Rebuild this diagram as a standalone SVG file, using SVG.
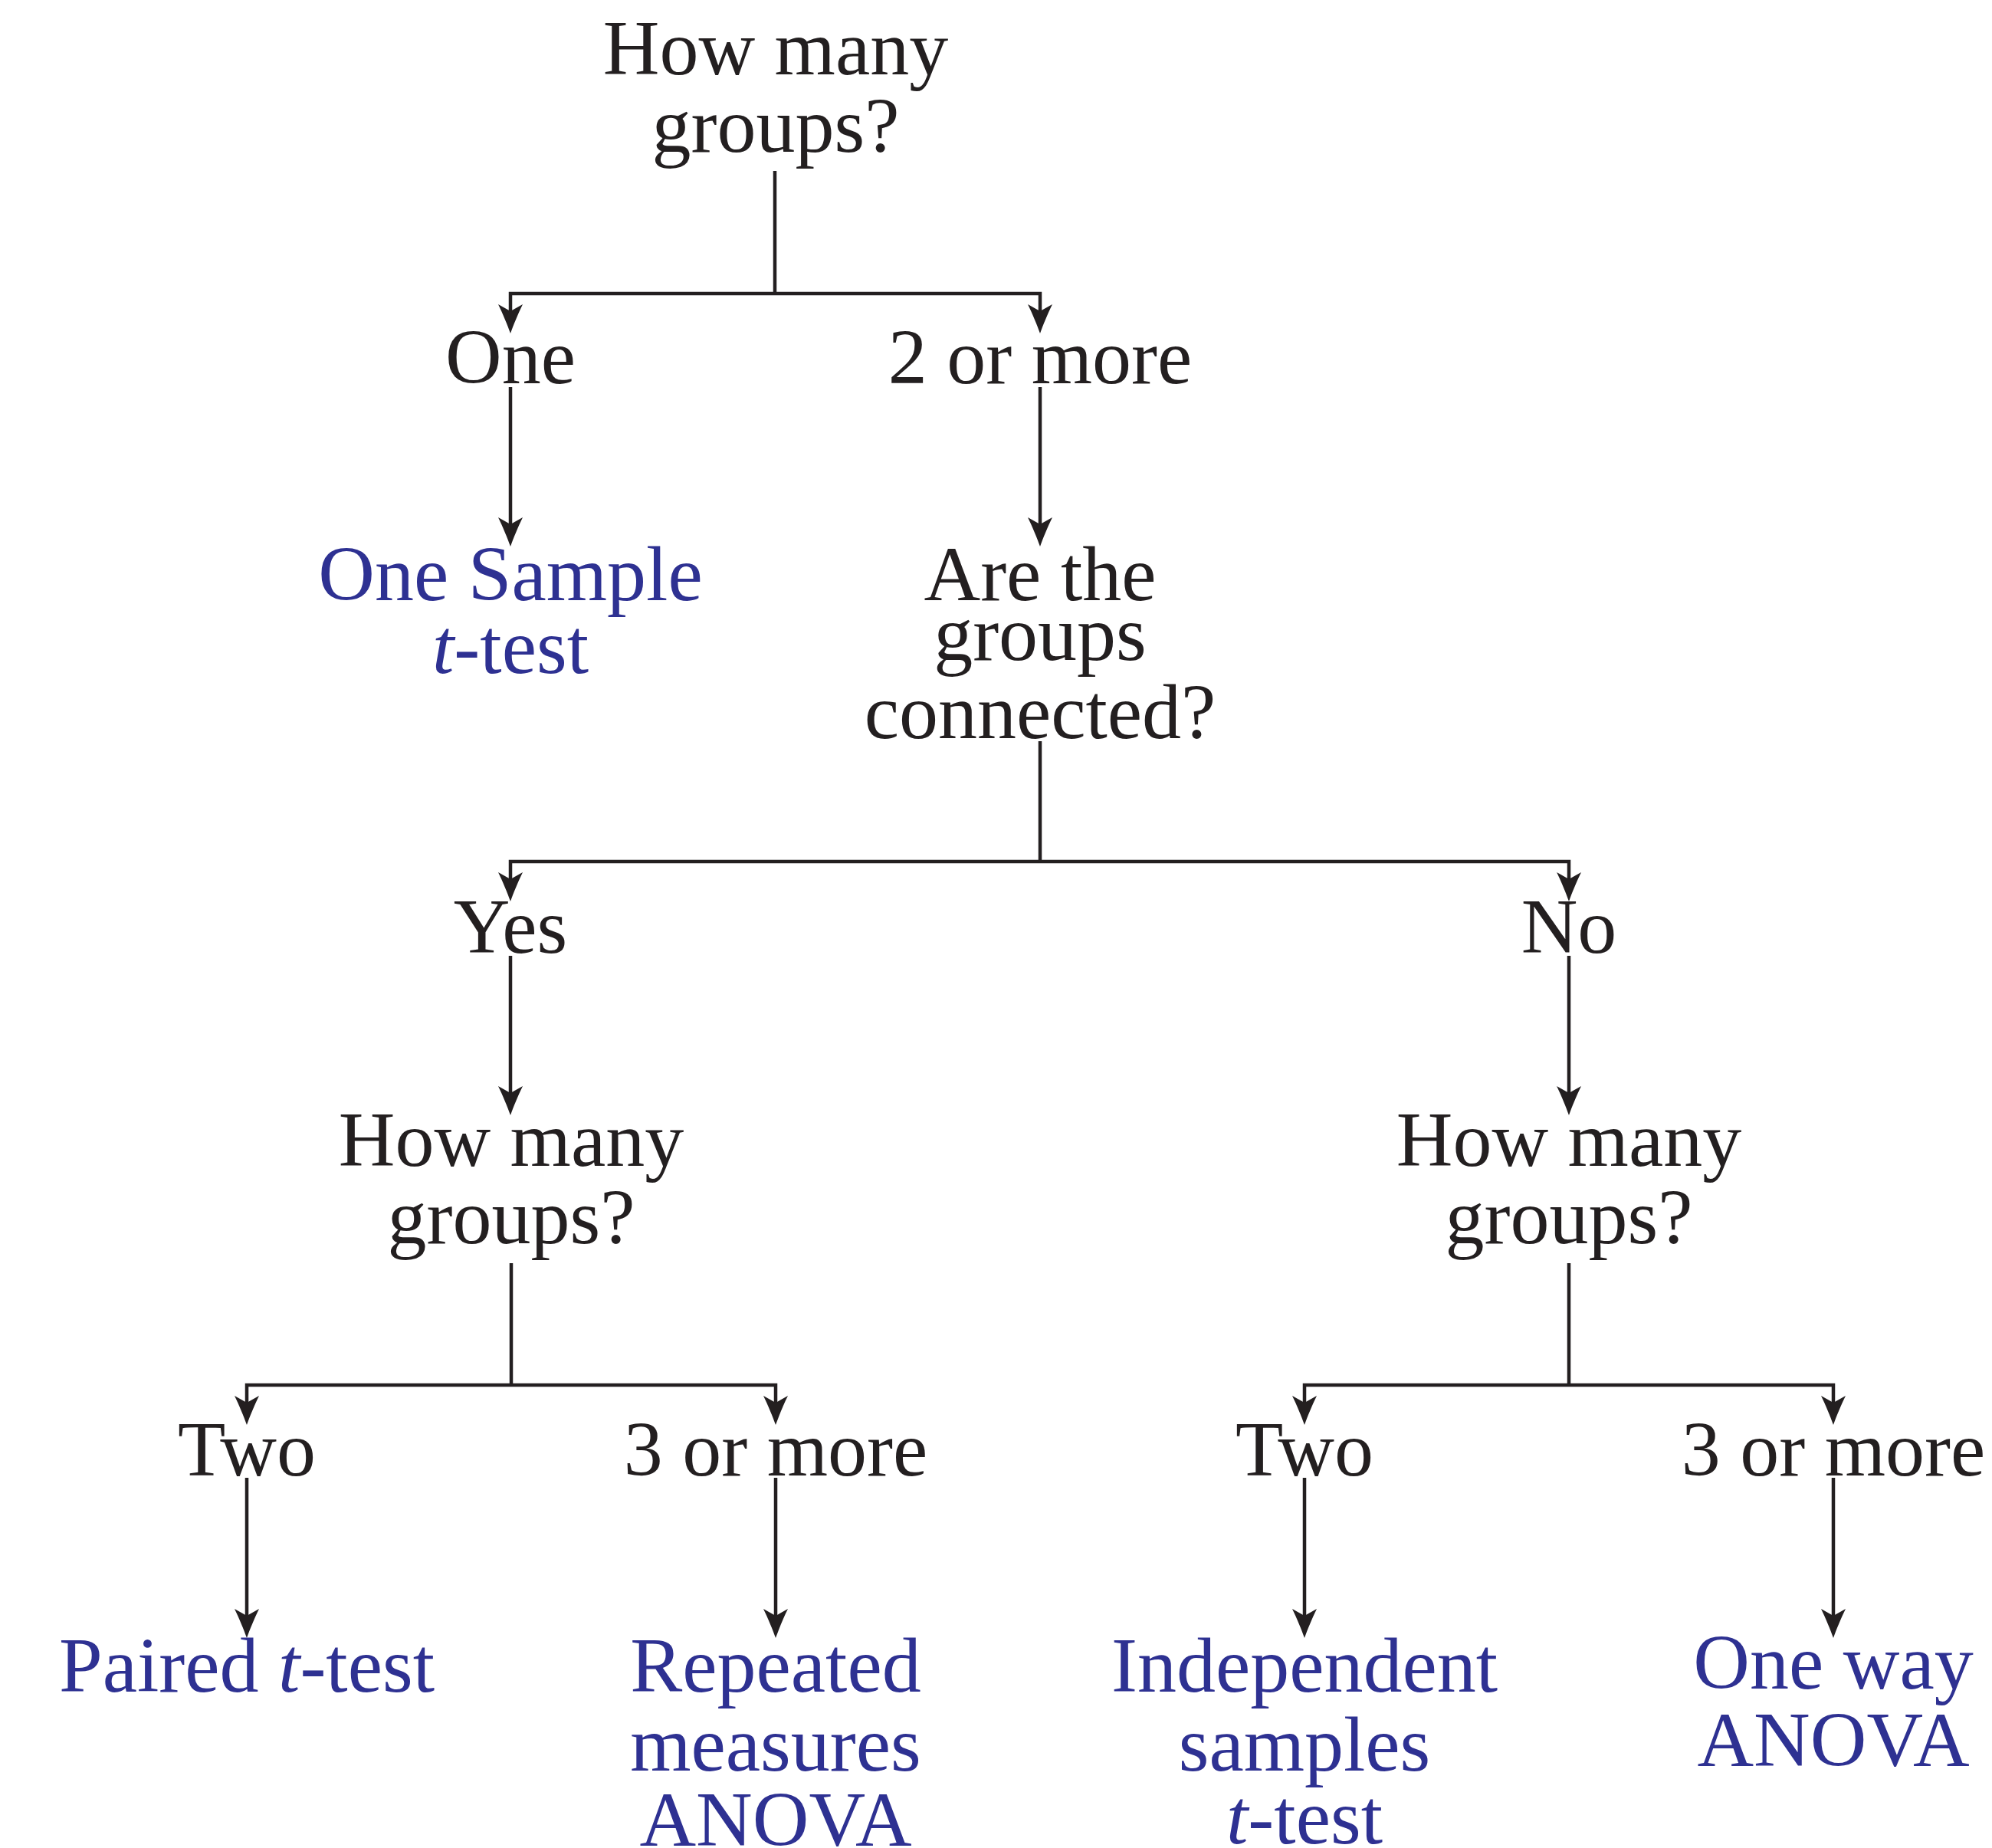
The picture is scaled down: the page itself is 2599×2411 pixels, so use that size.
<svg xmlns="http://www.w3.org/2000/svg" width="2599" height="2411" viewBox="0 0 2599 2411">
<style>
text{font-family:"Liberation Serif","Times New Roman",serif;font-size:102px;text-anchor:middle}
.q{fill:#231f20}
.r{fill:#2e3192}
.c{fill:none;stroke:#231f20;stroke-width:4.5}
</style>
<defs>
<marker id="ah" markerUnits="userSpaceOnUse" viewBox="-2 -18 42 36" markerWidth="42" markerHeight="36" refX="16" refY="0" orient="auto">
<path d="M38,0 C27,-4 12,-10 0,-16 L9,0 L0,16 C12,10 27,4 38,0 Z" fill="#231f20"/>
</marker>
</defs>
<rect width="2599" height="2411" fill="#ffffff"/>
<g id="connectors">
<path class="c" d="M1011,223 V383"/>
<path class="c" d="M1011,383 H666 V413" marker-end="url(#ah)"/>
<path class="c" d="M1011,383 H1357 V413" marker-end="url(#ah)"/>
<path class="c" d="M666,505 V691" marker-end="url(#ah)"/>
<path class="c" d="M1357,505 V691" marker-end="url(#ah)"/>
<path class="c" d="M1357,967 V1124"/>
<path class="c" d="M1357,1124 H666 V1154" marker-end="url(#ah)"/>
<path class="c" d="M1357,1124 H2047 V1154" marker-end="url(#ah)"/>
<path class="c" d="M666,1247 V1433" marker-end="url(#ah)"/>
<path class="c" d="M2047,1247 V1433" marker-end="url(#ah)"/>
<path class="c" d="M667,1648 V1807"/>
<path class="c" d="M667,1807 H322 V1837" marker-end="url(#ah)"/>
<path class="c" d="M667,1807 H1012 V1837" marker-end="url(#ah)"/>
<path class="c" d="M2047,1648 V1807"/>
<path class="c" d="M2047,1807 H1702 V1837" marker-end="url(#ah)"/>
<path class="c" d="M2047,1807 H2392 V1837" marker-end="url(#ah)"/>
<path class="c" d="M322,1928 V2115" marker-end="url(#ah)"/>
<path class="c" d="M1012,1928 V2115" marker-end="url(#ah)"/>
<path class="c" d="M1702,1928 V2115" marker-end="url(#ah)"/>
<path class="c" d="M2392,1928 V2115" marker-end="url(#ah)"/>
</g>
<g id="q-root"><text class="q" x="1012" y="97">How many</text><text class="q" x="1012" y="198">groups?</text></g>
<g id="a-one"><text class="q" x="666" y="500">One</text></g>
<g id="a-two-more"><text class="q" x="1357" y="500">2 or more</text></g>
<g id="r-one-sample"><text class="r" x="666" y="783">One Sample</text><text class="r" x="666" y="878"><tspan font-style="italic">t</tspan>-test</text></g>
<g id="q-connected"><text class="q" x="1357" y="783">Are the</text><text class="q" x="1357" y="861">groups</text><text class="q" x="1357" y="963">connected?</text></g>
<g id="a-yes"><text class="q" x="666" y="1243">Yes</text></g>
<g id="a-no"><text class="q" x="2047" y="1243">No</text></g>
<g id="q-left"><text class="q" x="667" y="1521">How many</text><text class="q" x="667" y="1622">groups?</text></g>
<g id="q-right"><text class="q" x="2047" y="1521">How many</text><text class="q" x="2047" y="1622">groups?</text></g>
<g id="a-left-two"><text class="q" x="322" y="1925">Two</text></g>
<g id="a-left-three"><text class="q" x="1012" y="1925">3 or more</text></g>
<g id="a-right-two"><text class="q" x="1702" y="1925">Two</text></g>
<g id="a-right-three"><text class="q" x="2392" y="1925">3 or more</text></g>
<g id="r-paired"><text class="r" x="322" y="2207">Paired <tspan font-style="italic">t</tspan>-test</text></g>
<g id="r-repeated"><text class="r" x="1012" y="2207">Repeated</text><text class="r" x="1012" y="2310">measures</text><text class="r" x="1012" y="2408">ANOVA</text></g>
<g id="r-independent"><text class="r" x="1702" y="2207">Independent</text><text class="r" x="1702" y="2310">samples</text><text class="r" x="1702" y="2405"><tspan font-style="italic">t</tspan>-test</text></g>
<g id="r-oneway"><text class="r" x="2392" y="2203">One way</text><text class="r" x="2392" y="2304">ANOVA</text></g>
</svg>
